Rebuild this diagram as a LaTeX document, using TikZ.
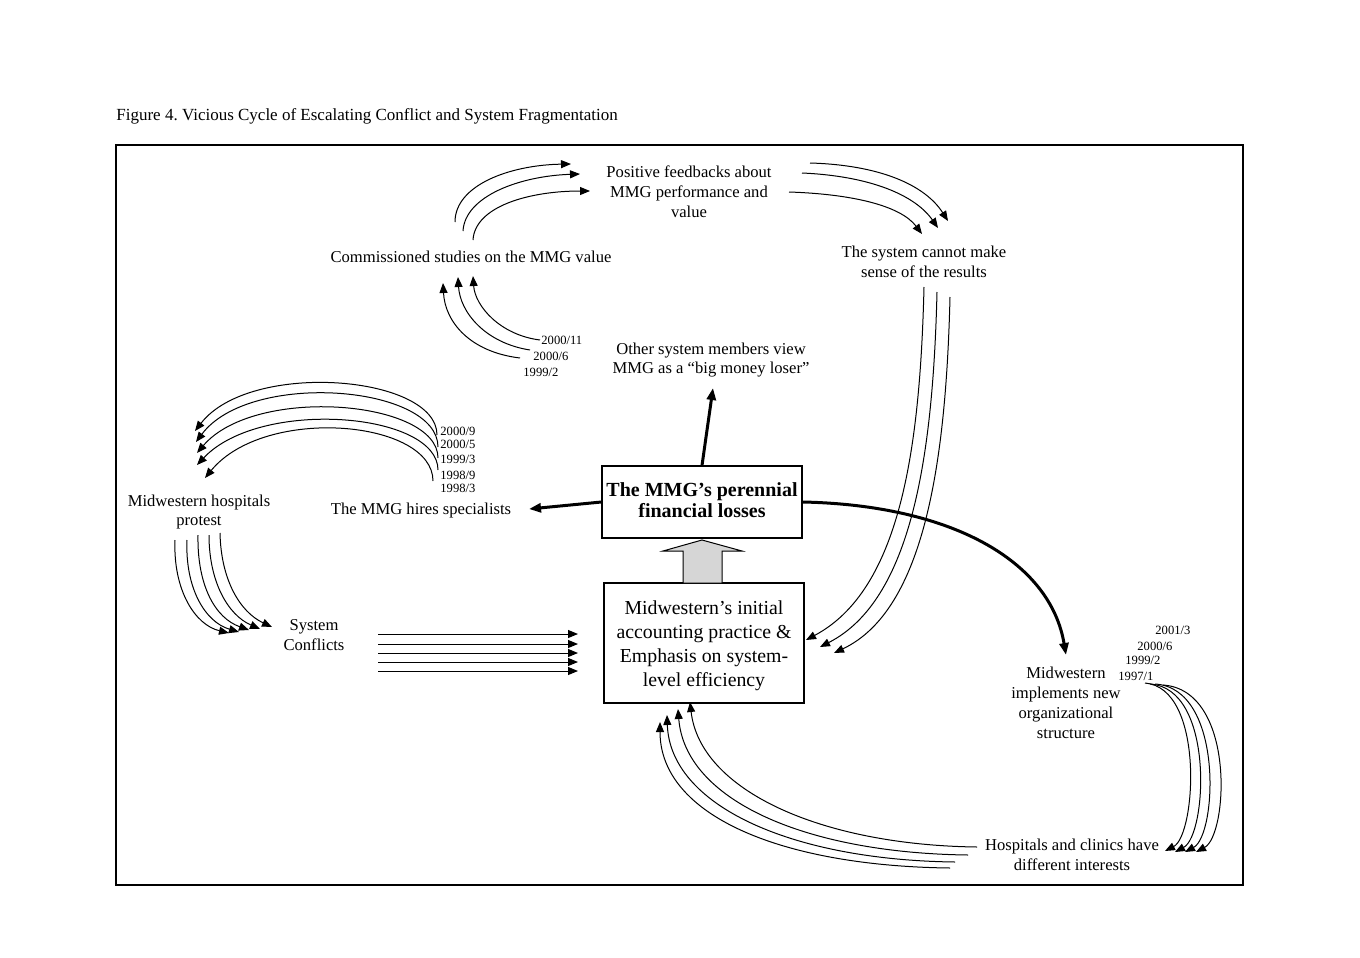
\documentclass[tikz,border=0pt]{standalone}
\usepackage{fontspec}
\setmainfont{Liberation Serif}
\usetikzlibrary{arrows.meta}
\frenchspacing
\begin{document}
\begin{tikzpicture}[x=0.5pt,y=-0.5pt,
  txt/.style={inner sep=0pt, align=center, font=\fontsize{8.3}{9.9}\selectfont},
  datelbl/.style={inner sep=0pt, anchor=west, font=\fontsize{6.3}{7}\selectfont},
  thinarr/.style={line width=0.5pt, -{Triangle[length=5pt,width=4pt]}},
  thickarr/.style={line width=1.5pt, -{Triangle[length=6pt,width=4.5pt]}},
  box/.style={draw, line width=0.6pt, inner sep=0pt}]
\useasboundingbox (0,0) rectangle (1360,958);
\draw[line width=1pt] (116,145) rectangle (1243,885);
\node[inner sep=0pt, anchor=west, font=\fontsize{8.5}{10}\selectfont] (title) at (116,116) {Figure 4. Vicious Cycle of Escalating Conflict and System Fragmentation};

% text nodes
\node[txt] (pos) at (689,192) {Positive feedbacks about\\MMG performance and\\value};
\node[txt] (comm) at (471,257) {Commissioned studies on the MMG value};
\node[txt] (sense) at (924,262) {The system cannot make\\sense of the results};
\node[txt] (other) at (711,360) {Other system members view\\MMG as a ``big money loser''};
\node[txt] (protest) at (199,512) {Midwestern hospitals\\protest};
\node[txt] (spec) at (421,511) {The MMG hires specialists};
\node[txt] (conf) at (314,635) {System\\Conflicts};
\node[txt] (impl) at (1066,703) {Midwestern\\implements new\\organizational\\structure};
\node[txt] (hosp) at (1072,855) {Hospitals and clinics have\\different interests};

\node[box, minimum width=100pt, minimum height=36pt] (loss) at (702,502) {};
\node[inner sep=0pt, align=center, font=\bfseries\fontsize{10}{10.6}\selectfont] (losstxt) at (702,500) {The MMG's perennial\\financial losses};
\node[box, minimum width=100pt, minimum height=60pt] (acct) at (704,643) {};
\node[inner sep=0pt, align=center, font=\fontsize{9.9}{12}\selectfont] (accttxt) at (704,646) {Midwestern's initial\\accounting practice \&\\Emphasis on system-\\level efficiency};

% block arrow
\draw[line width=0.5pt, fill=black!16] (683,583) -- (683,551) -- (663,551) -- (702,540) -- (742,551) -- (722,551) -- (722,583) -- cycle;

% dates
\node[datelbl] (d1) at (541,340) {2000/11};
\node[datelbl] (d2) at (533,356) {2000/6};
\node[datelbl] (d3) at (523,372) {1999/2};
\node[datelbl] (s1) at (440,431) {2000/9};
\node[datelbl] (s2) at (440,444) {2000/5};
\node[datelbl] (s3) at (440,459) {1999/3};
\node[datelbl] (s4) at (440,475) {1998/9};
\node[datelbl] (s5) at (440,488) {1998/3};
\node[datelbl] (m1) at (1155,630) {2001/3};
\node[datelbl] (m2) at (1137,646) {2000/6};
\node[datelbl] (m3) at (1125,660) {1999/2};
\node[datelbl] (m4) at (1118,676) {1997/1};

% thick arrows
\coordinate (otherB) at (713,388);
\coordinate (specE) at (529,509);
\coordinate (implT) at (1066,655);
\draw[thickarr] (loss.north) -- (otherB);
\draw[thickarr] (loss.west) -- (specE);
\draw[thickarr] (loss.east) .. controls (950,505) and (1050,560) .. (implT);

% commissioned -> positive
\draw[thinarr] (455,222) .. controls (455,185) and (510,165) .. (571,164);
\draw[thinarr] (463,231) .. controls (465,196) and (520,176) .. (580,174);
\draw[thinarr] (473,240) .. controls (475,206) and (530,191) .. (590,191);

% positive -> sense
\draw[thinarr] (810,163) .. controls (880,165) and (925,185) .. (948,221);
\draw[thinarr] (802,173) .. controls (870,176) and (915,195) .. (938,228);
\draw[thinarr] (789,192) .. controls (850,194) and (900,205) .. (922,234);

% dates -> commissioned
\draw[thinarr] (520,358) .. controls (470,352) and (445,322) .. (443,283);
\draw[thinarr] (530,350) .. controls (485,343) and (460,312) .. (458,277);
\draw[thinarr] (540,340) .. controls (500,335) and (475,306) .. (473,276);

% specialists -> protest
\draw[thinarr] (437,435) .. controls (437,375) and (250,360) .. (195,431);
\draw[thinarr] (438,447) .. controls (438,385) and (250,370) .. (196,442);
\draw[thinarr] (438,458) .. controls (438,400) and (255,385) .. (197,453);
\draw[thinarr] (438,470) .. controls (438,412) and (260,398) .. (197,465);
\draw[thinarr] (433,481) .. controls (433,420) and (265,405) .. (205,478);

% protest -> conflicts
\draw[thinarr] (175,540) .. controls (173,590) and (195,625) .. (229,633);
\draw[thinarr] (187,540) .. controls (185,588) and (205,622) .. (239,632);
\draw[thinarr] (198,535) .. controls (197,585) and (215,618) .. (249,630);
\draw[thinarr] (209,535) .. controls (209,582) and (228,615) .. (260,629);
\draw[thinarr] (220,533) .. controls (221,580) and (240,612) .. (272,627);

% conflicts -> acct
\foreach \yy in {634,644,653,662,671}
  \draw[thinarr] (378,\yy) -- (578,\yy);

% sense -> acct
\draw[thinarr] (924,287) .. controls (920,450) and (900,590) .. (806,640);
\draw[thinarr] (937,292) .. controls (933,455) and (912,600) .. (820,647);
\draw[thinarr] (950,297) .. controls (946,460) and (925,610) .. (834,653);

% hospitals -> acct
\draw[thinarr] (977,847) .. controls (820,845) and (700,790) .. (690,702);
\draw[thinarr] (968,855) .. controls (805,853) and (685,800) .. (678,709);
\draw[thinarr] (955,862) .. controls (790,860) and (670,805) .. (667,715);
\draw[thinarr] (950,868) .. controls (780,866) and (660,815) .. (660,722);

% implements -> hospitals
\draw[thinarr] (1145,683) .. controls (1205,688) and (1196,835) .. (1165,851);
\draw[thinarr] (1150,684) .. controls (1215,688) and (1207,835) .. (1175,852);
\draw[thinarr] (1155,684) .. controls (1224,688) and (1217,835) .. (1185,852);
\draw[thinarr] (1163,685) .. controls (1236,690) and (1228,835) .. (1196,852);
\end{tikzpicture}
\end{document}
